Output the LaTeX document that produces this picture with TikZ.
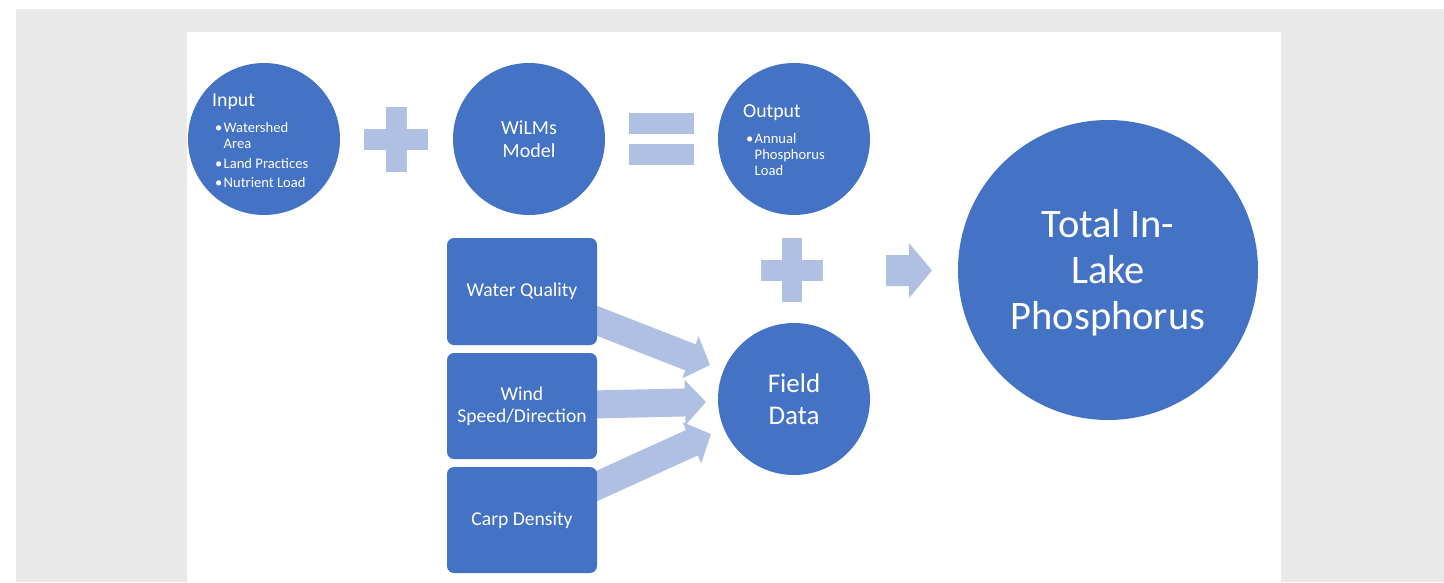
\documentclass[tikz,border=0pt]{standalone}
\usepackage{fontspec}
\setmainfont{Carlito}
\usetikzlibrary{arrows.meta}
\definecolor{cblue}{HTML}{4472C4}
\definecolor{clight}{HTML}{B0C0E2}
\definecolor{cgray}{HTML}{E9E9E9}
\pgfdeclarelayer{back}
\pgfdeclarelayer{mid}
\pgfsetlayers{back,mid,main}
\begin{document}
\begin{tikzpicture}[x=1pt,y=-1pt,
  circ/.style={circle,fill=cblue,inner sep=0pt,minimum size=152pt,text=white,align=center},
  box/.style={rectangle,rounded corners=7pt,fill=cblue,minimum width=150pt,minimum height=106pt,inner sep=0pt,text=white,align=center,font=\fontsize{19.6}{22}\selectfont},
  blockarrow/.style={draw=clight,line width=28pt,-{Triangle[length=21pt,width=44pt]}},
  symb/.style={fill=clight},
  txtA/.style={text=white,inner sep=0pt,anchor=base west,font=\fontsize{19.8}{22}\selectfont},
  txtB/.style={text=white,inner sep=0pt,anchor=base west,font=\fontsize{14.6}{16}\selectfont}]
\useasboundingbox (0,0) rectangle (1444,582);
\begin{pgfonlayer}{back}
  \fill[white] (0,0) rectangle (1444,582);
  \fill[cgray] (16,9) rectangle (1444,582);
  \fill[white] (187,32) rectangle (1281,582);
\end{pgfonlayer}

% circles
\node[circ] (input) at (264,139) {};
\node[circ,font=\fontsize{20}{23}\selectfont] (wilms) at (529,139) {WiLMs\\Model};
\node[circ] (output) at (794,139) {};
\node[circ,font=\fontsize{27}{32}\selectfont] (field) at (794,399) {Field\\Data};
\node[circ,minimum size=300pt] (total) at (1108,270) {};
\node[text=white,align=center,inner sep=0pt,font=\fontsize{40.5}{46}\selectfont] (totalT) at (1108,272.5) {Total In-\\Lake\\Phosphorus};

% boxes
\node[box,minimum height=107pt] (wq) at (522,291.5) {Water Quality};
\node[box] (wind) at (522,406) {Wind\\Speed/Direction};
\node[box] (carp) at (522,520) {Carp Density};

% input texts
\node[txtA] (inT) at (212,106) {Input};
\node[txtB] (inB1) at (215,132) {•};
\node[txtB] (inL1) at (223.5,132) {Watershed};
\node[txtB] (inL2) at (223.5,148) {Area};
\node[txtB] (inB2) at (215,168) {•};
\node[txtB] (inL3) at (223.5,168) {Land Practices};
\node[txtB] (inB3) at (215,187) {•};
\node[txtB] (inL4) at (223.5,187) {Nutrient Load};

% output texts
\node[txtA] (outT) at (743,117) {Output};
\node[txtB] (outB1) at (746,143) {•};
\node[txtB] (outL1) at (754.5,143) {Annual};
\node[txtB] (outL2) at (754.5,159) {Phosphorus};
\node[txtB] (outL3) at (754.5,175) {Load};

% symbols
\fill[symb] (364,129) rectangle (428,150);
\fill[symb] (386,107) rectangle (407,172);
\fill[symb] (629,113) rectangle (694,134);
\fill[symb] (629,144) rectangle (694,165);
\fill[symb] (761,260) rectangle (823,281);
\fill[symb] (782,238) rectangle (802,302);
\fill[symb] (886,255) -- (909,255) -- (909,243) -- (932,270.5) -- (909,298) -- (909,286) -- (886,286) -- cycle;

% block arrows into field data
\coordinate (t1) at (710,365);
\coordinate (t2) at (706,402);
\coordinate (t3) at (711,434);
\begin{pgfonlayer}{mid}
  \draw[blockarrow] (wq.center) -- (t1);
  \draw[blockarrow] (wind.center) -- (t2);
  \draw[blockarrow] (carp.center) -- (t3);
\end{pgfonlayer}
\end{tikzpicture}
\end{document}
